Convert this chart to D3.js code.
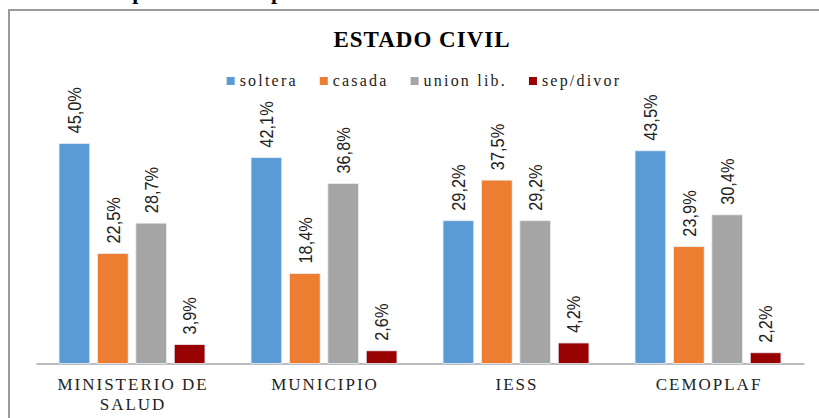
<!DOCTYPE html>
<html>
<head>
<meta charset="utf-8">
<script src="https://cdn.jsdelivr.net/npm/d3@7"></script>
<style>
  html, body { margin: 0; padding: 0; background: #fff; }
  svg { display: block; }
</style>
</head>
<body>
<div id="chart"></div>
<script>
// datos
const categories = ["MINISTERIO DE SALUD", "MUNICIPIO", "IESS", "CEMOPLAF"];
const categoryLines = [["MINISTERIO DE", "SALUD"], ["MUNICIPIO"], ["IESS"], ["CEMOPLAF"]];
const seriesNames = ["soltera", "casada", "union lib.", "sep/divor"];
const soltera = [45.0, 42.1, 29.2, 43.5];
const casada = [22.5, 18.4, 37.5, 23.9];
const unionLib = [28.7, 36.8, 29.2, 30.4];
const sepDivor = [3.9, 2.6, 4.2, 2.2];
const seriesColors = ["#5B9BD5", "#ED7D31", "#A5A5A5", "#990000"];

const width = 819, height = 418;
const serif = "'Liberation Serif', 'Times New Roman', serif";
const sans = "'Liberation Sans', Arial, sans-serif";

const datasets = [soltera, casada, unionLib, sepDivor].map((vals, si) => ({
    name: seriesNames[si],
    data: vals.map((v, ci) => ({name: categories[ci], value: v, label_index: si}))
}));

const svg = d3.select("#chart").append("svg")
    .attr("width", width)
    .attr("height", height);

// encabezado del documento, cortado arriba
svg.append("text")
    .attr("x", 87).attr("y", -1)
    .style("font-family", serif)
    .style("font-weight", "bold")
    .style("font-size", "22px")
    .text("Comparación de la población");

// marco del grafico
svg.append("rect")
    .attr("x", 9).attr("y", 10)
    .attr("width", 900).attr("height", 500)
    .attr("fill", "none")
    .attr("stroke", "#9a9a9a")
    .attr("stroke-width", 2);

// titulo
svg.append("text")
    .attr("x", 422).attr("y", 47)
    .attr("text-anchor", "middle")
    .style("font-family", serif)
    .style("font-weight", "bold")
    .style("font-size", "23px")
    .style("letter-spacing", "1px")
    .text("ESTADO CIVIL");

// escalas
const x0 = d3.scaleBand()
    .domain(categories)
    .range([36, 804])
    .paddingInner(0.24)
    .paddingOuter(0.12);

const x1 = d3.scaleBand()
    .domain(seriesNames)
    .range([0, x0.bandwidth()])
    .paddingInner(0.2);

const y = d3.scaleLinear()
    .domain([0, 50])
    .range([363.5, 119]);

// leyenda
const legend = svg.append("g").attr("class", "legend");
let lx = 0;
seriesNames.forEach((name, i) => {
    const item = legend.append("g").attr("transform", `translate(${lx},0)`);
    item.append("rect")
        .attr("x", 0).attr("y", 77)
        .attr("width", 8).attr("height", 8)
        .attr("fill", seriesColors[i]);
    const t = item.append("text")
        .attr("x", 13).attr("y", 86)
        .style("font-family", serif)
        .style("font-size", "16px")
        .style("letter-spacing", "2.2px")
        .style("fill", "#222")
        .text(name);
    lx += 13 + t.node().getComputedTextLength() + 22;
});
const legendW = lx - 22;
legend.attr("transform", `translate(${424 - legendW / 2},0)`);

// eje de categorias
const xAxis = svg.append("g")
    .attr("class", "xAxis")
    .attr("transform", `translate(0,${y(0)})`)
    .call(d3.axisBottom(x0).tickSize(0).tickFormat(""));
xAxis.select(".domain")
    .attr("stroke", "#a6a6a6")
    .attr("stroke-width", 1.5);

xAxis.selectAll(".tick").each(function(d, i) {
    const t = d3.select(this).append("text")
        .attr("y", 26)
        .attr("text-anchor", "middle")
        .attr("fill", "#222")
        .style("font-family", serif)
        .style("font-size", "17px")
        .style("letter-spacing", "2px");
    categoryLines[i].forEach((line, li) => {
        t.append("tspan")
            .attr("x", 1)
            .attr("dy", li === 0 ? 0 : 20)
            .text(line);
    });
});

// barras
const chartBody = svg.append("g").attr("class", "chartBody");
const slice = chartBody.selectAll(".slice")
    .data(datasets)
    .enter().append("g")
    .attr("class", "slice");

slice.selectAll("rect")
    .data(ds => ds.data)
    .enter().append("rect")
    .attr("x", d => x0(d.name) + x1(seriesNames[d.label_index]))
    .attr("y", d => y(d.value))
    .attr("width", x1.bandwidth())
    .attr("height", d => y(0) - y(d.value))
    .attr("fill", d => seriesColors[d.label_index])
    .attr("stroke", "#e8eef6")
    .attr("stroke-width", 0.8);

// etiquetas de valor, giradas y estrechadas
slice.selectAll("text")
    .data(ds => ds.data)
    .enter().append("text")
    .attr("transform", d => {
        const cx = x0(d.name) + x1(seriesNames[d.label_index]) + x1.bandwidth() / 2;
        return `translate(${cx},${y(d.value) - 10}) rotate(-90) scale(0.86,1)`;
    })
    .attr("dy", "0.36em")
    .attr("fill", "#222")
    .style("font-family", sans)
    .style("font-size", "19px")
    .text(d => d.value.toFixed(1).replace(".", ",") + "%");
</script>
</body>
</html>
